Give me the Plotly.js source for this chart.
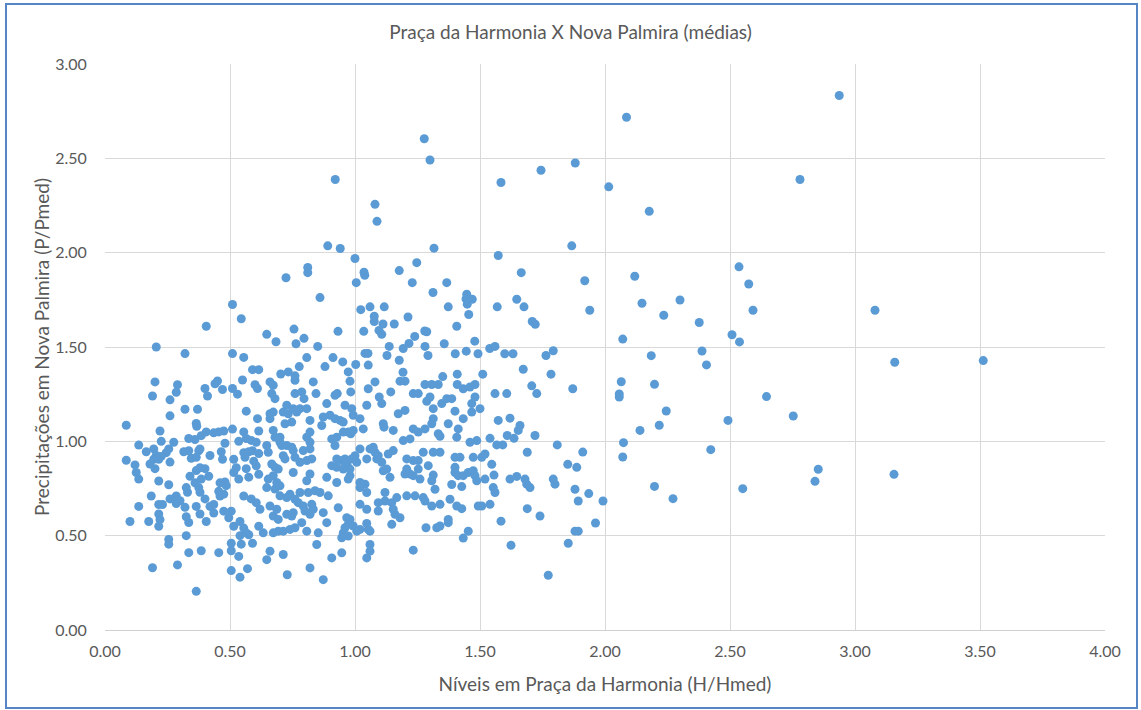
<!DOCTYPE html>
<html>
<head>
<meta charset="utf-8">
<script src="https://cdn.plot.ly/plotly-3.0.1.min.js"></script>
<style>html,body{margin:0;padding:0;background:#fff;}#chart{width:1141px;height:710px;}</style>
</head>
<body>
<div id="chart"></div>
<script>
// Chart texts
const chartTitle = 'Praça da Harmonia X Nova Palmira (médias)';
const xTitle = 'Níveis em Praça da Harmonia (H/Hmed)';
const yTitle = 'Precipitações em Nova Palmira (P/Pmed)';

// Data: [H/Hmed, P/Pmed] pairs, grouped by region of the chart
const ptsLowLeft = [
[0.20,1.315],[0.29,1.30],[0.19,1.24],[0.26,1.22],[0.285,1.26],[0.40,1.28],[0.44,1.305],[0.45,1.32],[0.41,1.24],[0.47,1.275],[0.51,1.28],[0.53,1.25],[0.55,1.325],[0.60,1.30],[0.61,1.28],[0.32,1.17],[0.37,1.17],[0.26,1.135],[0.565,1.16],[0.61,1.12],[0.085,1.085],[0.365,1.095],[0.367,1.08],[0.22,1.055],[0.335,1.015],[0.36,1.01],[0.385,1.03],[0.405,1.05],[0.435,1.045],[0.455,1.05],[0.475,1.055],[0.51,1.065],[0.555,1.05],[0.565,1.015],[0.585,1.005],[0.615,1.055],[0.135,0.98],[0.225,1.0],[0.275,0.995],[0.48,0.99],[0.535,1.0],[0.605,0.995],
[0.165,0.945],[0.195,0.96],[0.205,0.925],[0.225,0.92],[0.245,0.94],[0.255,0.96],[0.315,0.945],[0.335,0.95],[0.375,0.95],[0.38,0.96],[0.42,0.925],[0.465,0.945],[0.555,0.94],[0.575,0.945],[0.59,0.95],[0.615,0.935],[0.085,0.90],[0.12,0.875],[0.18,0.88],[0.195,0.905],[0.215,0.905],[0.26,0.89],[0.345,0.91],[0.365,0.915],[0.47,0.905],[0.515,0.905],[0.56,0.915],[0.595,0.895],
[0.125,0.835],[0.135,0.80],[0.20,0.855],[0.215,0.79],[0.255,0.77],[0.34,0.815],[0.365,0.845],[0.38,0.86],[0.40,0.855],[0.415,0.815],[0.385,0.80],[0.36,0.78],[0.375,0.755],[0.46,0.78],[0.48,0.785],[0.485,0.765],[0.525,0.86],[0.565,0.855],[0.515,0.835],[0.535,0.80],[0.575,0.81],[0.615,0.825],[0.605,0.87],
[0.185,0.71],[0.215,0.665],[0.26,0.695],[0.285,0.71],[0.30,0.685],[0.325,0.755],[0.33,0.73],[0.38,0.73],[0.40,0.695],[0.435,0.665],[0.455,0.735],[0.46,0.71],[0.475,0.72],[0.555,0.71],[0.585,0.695],[0.605,0.675],[0.135,0.655],[0.23,0.665],[0.285,0.67],
[0.10,0.575],[0.175,0.575],[0.215,0.615],[0.22,0.585],[0.215,0.55],[0.32,0.65],[0.325,0.60],[0.335,0.57],[0.365,0.655],[0.38,0.615],[0.405,0.575],[0.42,0.655],[0.435,0.62],[0.475,0.63],[0.495,0.595],[0.505,0.63],[0.515,0.55],[0.54,0.575],[0.555,0.54],[0.575,0.505],[0.615,0.55],
[0.255,0.48],[0.255,0.455],[0.325,0.50],[0.335,0.41],[0.385,0.42],[0.455,0.41],[0.505,0.42],[0.505,0.46],[0.535,0.39],[0.545,0.455],[0.54,0.50],[0.565,0.515],[0.59,0.46],[0.19,0.33],[0.29,0.345],[0.505,0.315],[0.57,0.325],[0.54,0.28],[0.365,0.205],
[0.51,1.725],[0.545,1.65],[0.405,1.61],[0.205,1.50],[0.32,1.465],[0.51,1.465],[0.555,1.445],[0.59,1.38],[0.615,1.38]
];

const ptsLowMid = [
[0.66,1.315],[0.673,1.297],[0.76,1.324],[0.833,1.315],[0.98,1.319],[1.08,1.315],[1.18,1.319],[1.20,1.319],[0.667,1.253],[0.68,1.226],[0.76,1.253],[0.787,1.262],[0.796,1.226],[0.844,1.253],[0.92,1.244],[0.929,1.253],[0.983,1.262],[1.053,1.279],[1.097,1.235],[1.107,1.20],[1.143,1.262],[1.233,1.253],[1.253,1.253],
[0.727,1.191],[0.753,1.173],[0.767,1.155],[0.78,1.173],[0.807,1.173],[0.733,1.146],[0.713,1.155],[0.66,1.146],[0.673,1.155],[0.82,1.111],[0.887,1.20],[0.96,1.191],[0.987,1.173],[1.047,1.191],[0.873,1.129],[0.90,1.138],[0.92,1.12],[0.94,1.111],[0.953,1.102],[0.867,1.084],[0.993,1.138],[1.02,1.12],[1.173,1.146],[1.20,1.164],[0.66,1.12],
[0.72,1.093],[0.747,1.102],[0.673,1.058],[0.68,1.022],[0.70,1.022],[0.82,1.049],[0.807,1.022],[0.82,0.995],[0.907,1.013],[0.927,1.022],[0.953,1.049],[0.973,1.049],[0.983,1.04],[0.993,1.058],[1.033,1.066],[1.113,1.093],[1.116,1.075],[1.153,1.058],[1.193,1.004],[1.22,1.013],[1.233,1.066],[1.253,1.049],
[0.647,0.978],[0.653,0.942],[0.70,0.995],[0.707,0.978],[0.727,0.978],[0.747,0.969],[0.753,0.951],[0.793,0.951],[0.82,0.96],[0.713,0.924],[0.72,0.907],[0.76,0.915],[0.78,0.889],[0.807,0.898],[0.827,0.907],[0.667,0.88],[0.68,0.862],[0.693,0.853],[0.92,0.978],[0.927,0.907],[0.947,0.898],[0.96,0.907],[0.967,0.88],[0.987,0.907],[1.0,0.924],[1.007,0.889],[0.907,0.871],[0.927,0.862],[0.953,0.853],[0.98,0.853],[0.97,0.865],[1.02,0.96],[1.06,0.96],[1.073,0.969],[1.08,0.942],[1.093,0.924],[1.107,0.889],[1.087,0.907],[1.047,0.907],[1.133,0.933],[1.153,0.951],[1.207,0.907],[1.207,0.853],[1.233,0.898],[1.253,0.898],
[0.653,0.80],[0.673,0.818],[0.687,0.782],[0.70,0.764],[0.753,0.835],[0.82,0.827],[0.807,0.791],[0.887,0.809],[0.927,0.782],[0.973,0.80],[0.98,0.818],[1.02,0.782],[1.04,0.773],[1.047,0.729],[1.02,0.755],[1.113,0.844],[1.14,0.809],[1.127,0.853],[1.20,0.827],[1.22,0.827],[1.233,0.818],[1.253,0.853],[1.26,0.80],[0.647,0.755],[0.68,0.747],[0.70,0.711],[0.74,0.72],[0.78,0.729],[0.813,0.729],[0.84,0.738],[0.86,0.729],[0.893,0.711],[1.12,0.729],[1.167,0.702],[1.207,0.711],[1.24,0.711],
[0.62,0.64],[0.66,0.657],[0.687,0.64],[0.727,0.702],[0.76,0.693],[0.773,0.675],[0.793,0.657],[0.80,0.631],[0.827,0.666],[0.833,0.64],[0.82,0.613],[0.673,0.604],[0.693,0.586],[0.727,0.613],[0.747,0.604],[0.753,0.622],[0.873,0.622],[0.933,0.648],[1.02,0.666],[1.047,0.64],[1.093,0.631],[1.093,0.675],[1.12,0.684],[1.147,0.675],[1.153,0.64],[1.16,0.613],[1.18,0.595],[1.147,0.56],
[0.633,0.515],[0.673,0.515],[0.693,0.524],[0.713,0.524],[0.74,0.533],[0.76,0.542],[0.787,0.569],[0.807,0.524],[0.853,0.515],[0.887,0.569],[0.967,0.595],[0.98,0.586],[0.973,0.56],[0.96,0.542],[0.953,0.515],[0.993,0.551],[1.007,0.524],[1.02,0.533],[1.053,0.533],[1.047,0.565],[1.06,0.524],[0.947,0.489],[0.973,0.498],[0.847,0.453],[1.06,0.453],
[0.647,0.373],[0.66,0.418],[0.713,0.40],[0.907,0.382],[0.947,0.409],[1.047,0.382],[1.06,0.418],[1.233,0.423],[0.729,0.293],[0.82,0.329],[0.873,0.267]
];

const ptsUpMid = [
[0.891,2.036],[0.941,2.022],[1.0,1.969],[1.247,1.947],[1.177,1.905],[0.724,1.867],[0.811,1.922],[0.811,1.894],[1.036,1.896],[1.039,1.88],[1.005,1.841],[1.229,1.841],[0.86,1.762],[1.023,1.698],[1.06,1.713],[1.117,1.713],[1.212,1.659],[1.077,1.663],[1.077,1.635],[1.112,1.622],[1.157,1.622],[0.647,1.567],[0.684,1.528],[0.756,1.595],[0.796,1.546],[0.764,1.517],[0.932,1.583],[1.035,1.583],[1.096,1.588],[1.107,1.567],[1.239,1.556],[0.851,1.503],[1.137,1.503],[1.216,1.519],[1.193,1.492],[0.807,1.444],[0.912,1.444],[1.04,1.466],[1.052,1.466],[1.128,1.455],[1.177,1.43],[0.777,1.396],[0.88,1.396],[0.951,1.421],[1.003,1.407],[1.053,1.404],[0.973,1.368],[1.192,1.366],[0.703,1.357],[0.733,1.368],[0.76,1.347]
];

const ptsUpRight = [
[1.316,2.024],[1.573,1.985],[1.867,2.036],[1.665,1.894],[1.367,1.841],[1.312,1.789],[1.447,1.78],[1.444,1.755],[1.469,1.753],[1.449,1.727],[1.373,1.713],[1.569,1.713],[1.647,1.753],[1.676,1.713],[1.455,1.672],[1.709,1.635],[1.721,1.62],[1.407,1.61],[1.279,1.585],[1.287,1.581],[1.28,1.503],[1.357,1.517],[1.479,1.531],[1.539,1.492],[1.56,1.503],[1.292,1.455],[1.401,1.464],[1.445,1.478],[1.492,1.464],[1.599,1.464],[1.632,1.464],[1.764,1.455],[1.793,1.48],[1.673,1.382],[1.351,1.343],[1.409,1.356],[1.511,1.356],[1.784,1.356]
];

const ptsTop = [
[1.277,2.604],[1.30,2.491],[0.921,2.388],[1.08,2.256],[1.088,2.166],[1.584,2.372],[1.744,2.437],[1.881,2.475]
];

const ptsLowRight = [
[1.28,1.301],[1.307,1.301],[1.333,1.301],[1.409,1.301],[1.433,1.279],[1.46,1.288],[1.48,1.301],[1.56,1.253],[1.607,1.253],[1.707,1.294],[1.727,1.253],[1.871,1.279],[1.30,1.235],[1.287,1.212],[1.347,1.20],[1.367,1.226],[1.387,1.226],[1.48,1.235],[1.313,1.173],[1.40,1.16],[1.467,1.20],[1.467,1.155],[1.50,1.173],[1.433,1.12],[1.573,1.111],[1.62,1.123],[1.66,1.084],[1.653,1.058],[1.313,1.12],[1.307,1.093],[1.28,1.066],[1.373,1.093],[1.333,1.04],[1.34,1.027],[1.413,1.066],[1.407,1.022],[1.72,1.031],[1.54,1.016],[1.46,0.995],[1.487,1.004],[1.609,1.031],[1.636,1.016],[1.567,0.981],[1.591,0.981],[1.809,0.981],[1.52,0.933],[1.507,0.915],[1.689,0.942],[1.273,0.942],[1.313,0.942],[1.34,0.942],[1.293,0.871],[1.40,0.915],[1.42,0.915],[1.473,0.915],[1.40,0.862],[1.40,0.835],[1.413,0.818],[1.433,0.818],[1.453,0.835],[1.473,0.844],[1.48,0.818],[1.547,0.878],[1.556,0.821],[1.52,0.80],[1.487,0.791],[1.313,0.821],[1.307,0.791],[1.387,0.771],[1.427,0.76],[1.62,0.80],[1.647,0.814],[1.68,0.80],[1.687,0.773],[1.70,0.755],[1.793,0.80],[1.80,0.773],[1.851,0.878],[1.887,0.862],[1.88,0.746],[1.553,0.755],[1.56,0.729],[1.32,0.746],[1.273,0.702],[1.28,0.684],[1.307,0.657],[1.34,0.666],[1.38,0.693],[1.407,0.657],[1.427,0.643],[1.493,0.657],[1.507,0.657],[1.54,0.666],[1.689,0.643],[1.74,0.604],[1.584,0.577],[1.373,0.586],[1.373,0.569],[1.284,0.542],[1.327,0.542],[1.34,0.551],[1.453,0.524],[1.433,0.487],[1.88,0.524],[1.893,0.524],[1.893,0.684],[1.624,0.449],[1.853,0.46],[1.773,0.29]
];

const ptsFarRight = [
[2.086,2.718],[2.937,2.833],[2.015,2.349],[2.177,2.219],[2.780,2.388],[2.536,1.925],[2.575,1.834],[2.592,1.695],[3.080,1.695],[2.119,1.875],[2.148,1.732],[2.235,1.668],[2.30,1.749],[2.377,1.630],[1.919,1.851],[1.939,1.695],
[2.071,1.542],[2.185,1.454],[2.388,1.479],[2.406,1.405],[2.508,1.565],[2.538,1.527],[3.159,1.419],[3.513,1.428],[2.065,1.316],[2.198,1.302],[2.057,1.251],[2.057,1.235],[2.646,1.237],[2.245,1.161],[2.217,1.085],[2.14,1.058],[2.492,1.111],[2.753,1.134],[2.074,0.993],[2.071,0.917],[1.911,0.943],[2.423,0.956],[2.853,0.852],[2.840,0.788],[3.156,0.825],[2.198,0.761],[2.272,0.696],[2.551,0.749],[1.935,0.723],[1.992,0.684],[1.962,0.567]
];

const allPts = [].concat(ptsLowLeft, ptsLowMid, ptsUpMid, ptsUpRight, ptsTop, ptsLowRight, ptsFarRight);
const xVals = allPts.map(p => p[0]);
const yVals = allPts.map(p => p[1]);

const trace = {
  type: 'scatter', mode: 'markers',
  x: xVals, y: yVals,
  marker: {color: '#5b9bd5', size: 9, line: {width: 0}},
  hoverinfo: 'x+y'
};

const fontFam = 'Lato, Carlito, "Open Sans", sans-serif';
const layout = {
  width: 1141, height: 710,
  margin: {l: 105, r: 36, t: 64, b: 80},
  paper_bgcolor: '#ffffff', plot_bgcolor: '#ffffff',
  font: {family: fontFam, color: '#595959', size: 16},
  showlegend: false,
  title: {text: chartTitle, font: {family: fontFam, size: 19, color: '#595959'}, x: 0.5, xref: 'container', xanchor: 'center', y: 1 - 32/710, yref: 'container', yanchor: 'middle'},
  xaxis: {
    range: [0, 4], tick0: 0, dtick: 0.5, tickformat: '.2f',
    showgrid: true, gridcolor: '#d9d9d9', gridwidth: 1, zeroline: false,
    showline: true, linecolor: '#d0d0d0', linewidth: 1,
    ticks: 'outside', ticklen: 7, tickcolor: 'rgba(0,0,0,0)',
    tickfont: {size: 16, color: '#595959'},
    title: {text: xTitle, font: {size: 19, color: '#595959'}, standoff: 18},
    fixedrange: true
  },
  yaxis: {
    range: [0, 3], tick0: 0, dtick: 0.5, tickformat: '.2f',
    showgrid: true, gridcolor: '#d9d9d9', gridwidth: 1, zeroline: false,
    showline: false,
    ticks: 'outside', ticklen: 14, tickcolor: 'rgba(0,0,0,0)',
    tickfont: {size: 16, color: '#595959'},
    title: {text: yTitle, font: {size: 19, color: '#595959'}, standoff: 0},
    fixedrange: true
  },
  shapes: [{
    type: 'rect', xref: 'paper', yref: 'paper',
    x0: -0.099, x1: 1.032, y0: -0.138, y1: 1.106,
    line: {color: '#5585c5', width: 2}, fillcolor: 'rgba(0,0,0,0)', layer: 'above'
  }]
};

Plotly.newPlot('chart', [trace], layout, {displayModeBar: false, staticPlot: true});
</script>
</body>
</html>
